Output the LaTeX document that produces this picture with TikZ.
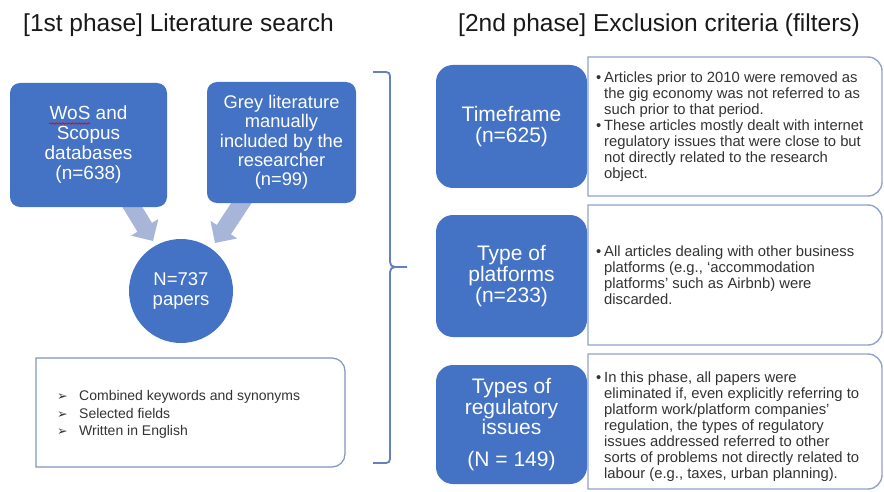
\documentclass[tikz,border=0pt]{standalone}
\usepackage{fontspec}
\setmainfont{Liberation Sans}
\newfontfamily\djv{DejaVu Sans}
\usetikzlibrary{arrows.meta,decorations.pathmorphing}
\definecolor{blu}{HTML}{4472C4}
\definecolor{arr}{HTML}{A7B5D8}
\definecolor{brd}{HTML}{8EA4D2}
\definecolor{brk}{HTML}{6580BC}
\definecolor{txt}{HTML}{333333}
\newcommand\bl{\makebox[8pt][l]{•}}
\newcommand\ind{\hspace*{8pt}}
\newcommand\ar{\makebox[22pt][l]{\djv\fontsize{12.5}{10}\selectfont ➢}}
\begin{document}
\begin{tikzpicture}[x=1pt,y=-1pt,
  leftbox/.style={fill=blu, draw=none, text=white, align=center, inner sep=0pt, rounded corners=10pt},
  rightbox/.style={fill=blu, draw=none, text=white, align=center, inner sep=0pt, rounded corners=17pt, minimum width=151pt},
  titletext/.style={anchor=base west, inner sep=0pt, text=black!90, font=\fontsize{24.5}{28}\selectfont},
  boxtext/.style={anchor=west, inner sep=0pt, align=left, text=txt, font=\fontsize{14.8}{16}\selectfont},
  framebox/.style={draw=brd, line width=1.4pt, fill=white},
  blockarrow/.style={draw=arr, line width=17pt, -{Triangle[width=31pt,length=16pt]}},
  bracket/.style={draw=brk, line width=1.8pt}]
\useasboundingbox (0,0) rectangle (884,492);
\fill[white] (0,0) rectangle (884,492);

% titles
\node[titletext] (title1) at (23,32) {[1st phase] Literature search};
\node[titletext] (title2) at (458,32) {[2nd phase] Exclusion criteria (filters)};

% block arrows (behind boxes)
\coordinate (a1s) at (122,190);
\coordinate (a1e) at (153,241);
\coordinate (a2s) at (250,190);
\coordinate (a2e) at (215,243);
\draw[blockarrow] (a1s) -- (a1e);
\draw[blockarrow] (a2s) -- (a2e);

% left boxes
\node[leftbox, minimum width=157pt, minimum height=124pt, font=\fontsize{19}{20}\selectfont] (wos) at (88.5,145)
  {WoS and\\Scopus\\databases\\(n=638)};
\node[leftbox, minimum width=149pt, minimum height=121pt, font=\fontsize{18.3}{19.3}\selectfont] (grey) at (281.5,142.5)
  {Grey literature\\manually\\included by the\\researcher\\(n=99)};
\draw[red!85!black, line width=0.6pt, decorate, decoration={snake, amplitude=0.8pt, segment length=3.2pt}] (49,123.5) -- (90,123.5);

\node[circle, fill=blu, text=white, minimum size=104pt, inner sep=0pt, align=center, font=\fontsize{18.5}{20}\selectfont] (total) at (181,291)
  {N=737\\papers};

% keywords box
\draw[framebox, draw=brd!90!black, line width=1.2pt] (36,358) -- (332,358) .. controls (339.2,358) and (345,363.8) .. (345,371)
  -- (345,454) .. controls (345,461.2) and (339.2,467) .. (332,467) -- (36,467) -- cycle;
\node[anchor=west, inner sep=0pt, align=left, text=txt, font=\fontsize{14}{17.5}\selectfont] (kw) at (57,414.5)
  {\ar Combined keywords and synonyms\\\ar Selected fields\\\ar Written in English};

% bracket
\draw[bracket] (373,72) -- (386,72) .. controls (388.5,72) and (390,73.5) .. (390,76) -- (390,262)
  .. controls (390,265) and (392,267) .. (395,267) -- (407,267);
\draw[bracket] (395,267) .. controls (392,267) and (390,269) .. (390,272) -- (390,459)
  .. controls (390,461.5) and (388.5,463) .. (386,463) -- (373,463);

% right frames
\draw[framebox] (588,57) -- (868,57) .. controls (875.7,57) and (882,63.3) .. (882,71) -- (882,182)
  .. controls (882,189.7) and (875.7,196) .. (868,196) -- (588,196) -- cycle;
\draw[framebox] (588,205) -- (868,205) .. controls (875.7,205) and (882,211.3) .. (882,219) -- (882,331)
  .. controls (882,338.7) and (875.7,345) .. (868,345) -- (588,345) -- cycle;
\draw[framebox] (588,354) -- (868,354) .. controls (875.7,354) and (882,360.3) .. (882,368) -- (882,475)
  .. controls (882,482.7) and (875.7,489) .. (868,489) -- (588,489) -- cycle;

% right blue boxes
\node[rightbox, minimum height=123pt, font=\fontsize{21}{20.5}\selectfont] (time) at (511.5,126.5)
  {Timeframe\\(n=625)};
\node[rightbox, minimum height=122pt, font=\fontsize{21}{19.5}\selectfont] (plat) at (511.5,276)
  {Type of\\platforms\\(n=233)};
\node[rightbox, minimum height=119pt, font=\fontsize{21}{19.5}\selectfont] (reg) at (511.5,424.5)
  {Types of\\regulatory\\issues\\[12pt](N = 149)};

% texts in frames
\node[boxtext] (d1) at (596,126.5)
  {\bl Articles prior to 2010 were removed as\\
   \ind the gig economy was not referred to as\\
   \ind such prior to that period.\\
   \bl These articles mostly dealt with internet\\
   \ind regulatory issues that were close to but\\
   \ind not directly related to the research\\
   \ind object.};
\node[boxtext] (d2) at (596,275)
  {\bl All articles dealing with other business\\
   \ind platforms (e.g., ‘accommodation\\
   \ind platforms’ such as Airbnb) were\\
   \ind discarded.};
\node[boxtext] (d3) at (596,427)
  {\bl In this phase, all papers were\\
   \ind eliminated if, even explicitly referring to\\
   \ind platform work/platform companies’\\
   \ind regulation, the types of regulatory\\
   \ind issues addressed referred to other\\
   \ind sorts of problems not directly related to\\
   \ind labour (e.g., taxes, urban planning).};
\end{tikzpicture}
\end{document}
